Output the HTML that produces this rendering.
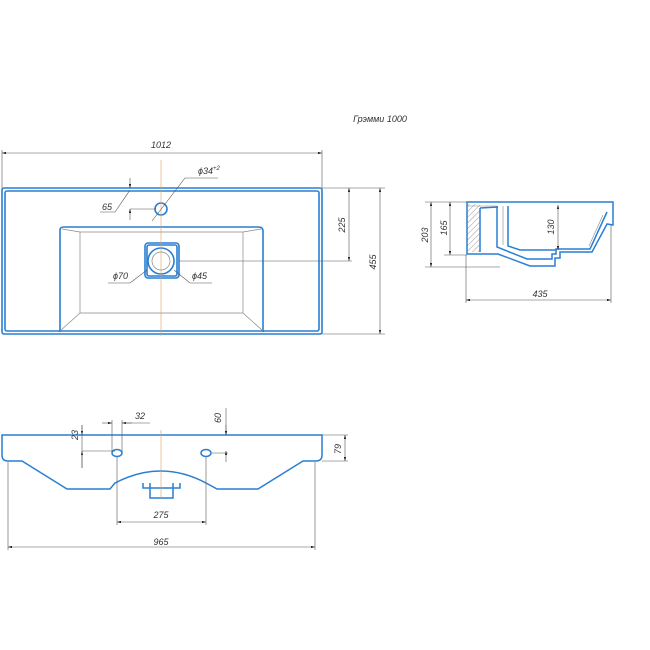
<!DOCTYPE html>
<html><head><style>body{margin:0;background:#fff}svg{display:block}text{font-family:"Liberation Sans",sans-serif;font-style:italic;font-size:9px;fill:#333}</style></head><body>
<svg width="650" height="650" viewBox="0 0 650 650" xmlns="http://www.w3.org/2000/svg">
<defs><marker id="a" viewBox="0 0 10 6" refX="10" refY="3" markerWidth="7" markerHeight="4" orient="auto-start-reverse"><path d="M0,0L10,3L0,6z" fill="#222"/></marker>
<pattern id="h" width="4" height="4" patternUnits="userSpaceOnUse" patternTransform="rotate(45)"><line x1="0" y1="0" x2="0" y2="4" stroke="#999" stroke-width="1"/></pattern></defs>
<text x="380" y="122" text-anchor="middle">Грэмми 1000</text>
<g fill="none" stroke="#2a7fd4" stroke-width="1.6">
<rect x="2" y="188" width="320" height="146" rx="2"/>
<rect x="5" y="191" width="314" height="140" rx="2"/>
<path d="M60,332V230Q60,227 64,227H258Q263,227 263,231V332"/>
<circle cx="161" cy="209" r="6"/>
<rect x="145" y="243" width="34" height="35" rx="3"/>
<rect x="147" y="245" width="30" height="31" rx="2"/>
<circle cx="161" cy="261" r="13"/>
</g>
<g fill="none" stroke="#888" stroke-width="0.7">
<path d="M80,232V313H243V232M60,331L80,313M263,331L243,313M62,229L80,232M261,229L243,232M80,232H243"/>
<circle cx="161" cy="261" r="9"/>
</g>
<line x1="161" y1="160" x2="161" y2="336" stroke="#d9a060" stroke-width="0.6"/>
<g stroke="#555" stroke-width="0.6" fill="none">
<path d="M2,150V188M322,150V188M322,188H385M322,334H385M179,261H352M130,209H156M130,190L115,212H100M152,221L185,178H218M147,270L130,283H108M174,270L190,283H212"/>
<line x1="2" y1="153" x2="322" y2="153" marker-start="url(#a)" marker-end="url(#a)"/>
<line x1="380" y1="188" x2="380" y2="334" marker-start="url(#a)" marker-end="url(#a)"/>
<line x1="349" y1="188" x2="349" y2="261" marker-start="url(#a)" marker-end="url(#a)"/>
<line x1="130" y1="178" x2="130" y2="188" marker-end="url(#a)"/>
<line x1="130" y1="220" x2="130" y2="209" marker-end="url(#a)"/>
</g>
<text x="161" y="148" text-anchor="middle">1012</text>
<text x="107" y="210" text-anchor="middle">65</text>
<text x="198" y="174">ϕ34<tspan dy="-4" font-size="6">+2</tspan></text>
<text x="113" y="279">ϕ70</text>
<text x="192" y="279">ϕ45</text>
<text transform="translate(345,225) rotate(-90)" text-anchor="middle">225</text>
<text transform="translate(376,262) rotate(-90)" text-anchor="middle">455</text>
<!-- side view -->
<rect x="467" y="204" width="13" height="48" fill="url(#h)"/>
<g fill="none" stroke="#2a7fd4" stroke-width="1.5">
<path d="M467,202H613V225L607,224L592,252H560V258H555V266H530L498,254H467Z"/>
<path d="M497,206V247L527,259H552V254H556V249H590L607,212M508,206V246L520,250H556"/>
<path d="M480,208L498,207M480,252V208"/>
</g>
<g fill="none" stroke="#888" stroke-width="0.6">
<path d="M467,206H497M503,206V245M603,215L589,246"/>
</g>
<g stroke="#555" stroke-width="0.6" fill="none">
<path d="M425,202H467M444,255H467M425,267H500M466,255V303M611,225V303"/>
<line x1="431" y1="202" x2="431" y2="267" marker-start="url(#a)" marker-end="url(#a)"/>
<line x1="450" y1="202" x2="450" y2="255" marker-start="url(#a)" marker-end="url(#a)"/>
<line x1="558" y1="205" x2="558" y2="250" marker-start="url(#a)" marker-end="url(#a)"/>
<line x1="466" y1="300" x2="611" y2="300" marker-start="url(#a)" marker-end="url(#a)"/>
</g>
<text transform="translate(428,235) rotate(-90)" text-anchor="middle">203</text>
<text transform="translate(447,228) rotate(-90)" text-anchor="middle">165</text>
<text transform="translate(554,227) rotate(-90)" text-anchor="middle">130</text>
<text x="540" y="297" text-anchor="middle">435</text>
<!-- front view -->
<g fill="none" stroke="#2a7fd4" stroke-width="1.5">
<path d="M2,435H322V455Q322,461 316,461H303L258,489H217L206,483Q161,459 115,483L110,489H67L22,461H8Q2,461 2,455Z"/>
<path d="M150,483V498H173V483M143,483V488H180V483"/>
<ellipse cx="117" cy="453" rx="5" ry="3.5"/>
<ellipse cx="206" cy="453" rx="5" ry="3.5"/>
</g>
<line x1="161" y1="430" x2="161" y2="498" stroke="#d9a060" stroke-width="0.6"/>
<g stroke="#555" stroke-width="0.6" fill="none">
<path d="M8,462V550M315,462V550M117,457V525M206,457V525M112,420V452M122,420V452M82,451H115M212,453H228M322,435H348M322,461H348M226,408V435"/>
<line x1="8" y1="547" x2="315" y2="547" marker-start="url(#a)" marker-end="url(#a)"/>
<line x1="117" y1="522" x2="206" y2="522" marker-start="url(#a)" marker-end="url(#a)"/>
<line x1="345" y1="435" x2="345" y2="461" marker-start="url(#a)" marker-end="url(#a)"/>
<line x1="102" y1="423" x2="112" y2="423" marker-end="url(#a)"/>
<line x1="132" y1="423" x2="122" y2="423" marker-end="url(#a)"/>
<path d="M122,423H150"/>
<line x1="226" y1="425" x2="226" y2="435" marker-end="url(#a)"/>
<line x1="226" y1="462" x2="226" y2="451" marker-end="url(#a)"/>
<line x1="82" y1="425" x2="82" y2="435" marker-end="url(#a)"/>
<line x1="82" y1="468" x2="82" y2="451" marker-end="url(#a)"/>
<path d="M82,425V468"/>
</g>
<text x="161" y="545" text-anchor="middle">965</text>
<text x="161" y="518" text-anchor="middle">275</text>
<text x="140" y="419" text-anchor="middle">32</text>
<text transform="translate(221,418) rotate(-90)" text-anchor="middle">60</text>
<text transform="translate(78,435) rotate(-90)" text-anchor="middle">23</text>
<text transform="translate(341,449) rotate(-90)" text-anchor="middle">79</text>
</svg>
</body></html>
